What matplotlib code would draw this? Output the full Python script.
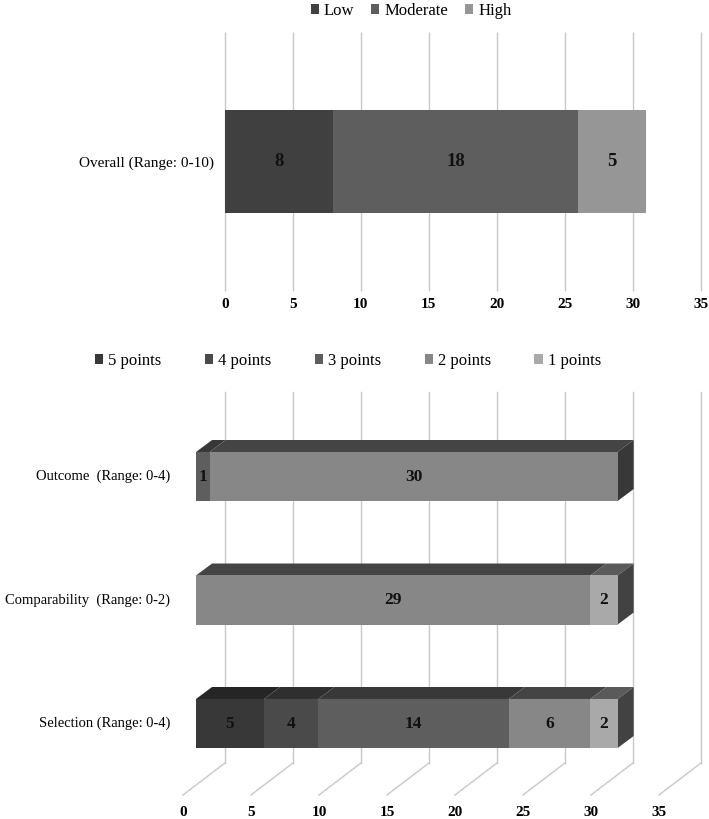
import matplotlib
matplotlib.use('Agg')
import matplotlib.pyplot as plt
from matplotlib.patches import Polygon, Patch

plt.rcParams['font.family'] = ['Liberation Serif', 'DejaVu Serif']

# ---------------- data ----------------
overall_categories = ['Overall (Range: 0-10)']
overall_series = ['Low', 'Moderate', 'High']
overall_values = [8, 18, 5]
overall_colors = ['#404040', '#5e5e5e', '#969696']

domain_categories = ['Selection (Range: 0-4)', 'Comparability  (Range: 0-2)', 'Outcome  (Range: 0-4)']
point_series = ['5 points', '4 points', '3 points', '2 points', '1 points']
points_5 = [5, 0, 0]
points_4 = [4, 0, 0]
points_3 = [14, 0, 1]
points_2 = [6, 29, 30]
points_1 = [2, 2, 0]
point_values = [points_5, points_4, points_3, points_2, points_1]
front_colors = ['#383838', '#4a4a4a', '#5e5e5e', '#878787', '#a9a9a9']
top_colors = ['#252525', '#2f2f2f', '#383838', '#444444', '#5a5a5a']
side_colors = ['#303030', '#333333', '#363636', '#383838', '#424242']

xticks = [0, 5, 10, 15, 20, 25, 30, 35]
grid_color = '#c8c8c8'

W, H = 709, 819
fig = plt.figure(figsize=(W / 100, H / 100), dpi=100)
fig.patch.set_facecolor('white')

# ---------------- top chart ----------------
ax1 = fig.add_axes([224.7 / W, 1 - 291 / H, 476 / W, 259 / H])
ax1.set_xlim(0, 35)
ax1.set_ylim(-1.257, 1.257)
ax1.vlines(xticks, -1.257, 1.257, colors=grid_color, linewidth=1.0, zorder=0, clip_on=False)
left = 0
for name, val, col in zip(overall_series, overall_values, overall_colors):
    ax1.barh(0, val, left=left, height=1.0, color=col, label=name, zorder=2)
    ax1.text(left + val / 2, 0, str(val), ha='center', va='center',
             fontsize=13.5, fontweight='bold', color='#111111', zorder=3)
    left += val
ax1.set_yticks([0])
ax1.set_yticklabels(overall_categories, fontsize=11)
ax1.set_xticks(xticks)
ax1.set_xticklabels([str(t) for t in xticks], fontsize=11, fontweight='bold')
ax1.tick_params(axis='both', length=0)
ax1.tick_params(axis='y', pad=8)
ax1.tick_params(axis='x', pad=5)
for s in ax1.spines.values():
    s.set_visible(False)
ax1.patch.set_alpha(0)

h1 = [Patch(facecolor=c, edgecolor='none') for c in overall_colors]
fig.legend(h1, overall_series, loc='center', bbox_to_anchor=(411 / W, 1 - 11 / H),
           ncol=3, frameon=False, prop={'size': 12}, handlelength=0.5, handleheight=0.5,
           handletextpad=0.3, columnspacing=1.0)

# ---------------- bottom pseudo-3D chart ----------------
ax2 = fig.add_axes([0, 0, 1, (H - 330) / H])
px_per_unit = 13.6
cat_px = 123.5
ax2.set_xlim(-196 / px_per_unit, (W - 196) / px_per_unit)
ax2.set_ylim((723.5 - H) / cat_px, (723.5 - 330) / cat_px)
ax2.axis('off')

back_dx, back_dy = 2.13, 0.178     # bar front plane -> back wall
bar_dx, bar_dy = 1.18, 0.097       # bar depth
floor_dx, floor_dy = -0.96, -0.081  # bar front plane -> floor front edge
wall_bottom, wall_top = -0.32, 2.684
bar_h = 0.397

for k in xticks:
    ax2.plot([k + back_dx, k + back_dx], [wall_bottom, wall_top], color=grid_color, lw=1.0, zorder=0)
    ax2.plot([k + back_dx, k + floor_dx], [wall_bottom, wall_bottom - back_dy + floor_dy],
             color=grid_color, lw=1.0, zorder=0)
    ax2.text(k + floor_dx, -0.717, str(k), ha='center', va='center', fontsize=11, fontweight='bold')

for i, cat in enumerate(domain_categories):
    left = 0
    last = None
    for j, series in enumerate(point_series):
        v = point_values[j][i]
        if v <= 0:
            continue
        ax2.barh(i, v, left=left, height=bar_h, color=front_colors[j], zorder=3)
        yt = i + bar_h / 2
        ax2.add_patch(Polygon([(left, yt), (left + v, yt), (left + v + bar_dx, yt + bar_dy),
                               (left + bar_dx, yt + bar_dy)], closed=True,
                              facecolor=top_colors[j], edgecolor='none', zorder=2))
        ax2.text(left + v / 2, i, str(v), ha='center', va='center', fontsize=12.5,
                 fontweight='bold', color='#111111', zorder=4)
        left += v
        last = j
    yb, yt = i - bar_h / 2, i + bar_h / 2
    ax2.add_patch(Polygon([(left, yb), (left, yt), (left + bar_dx, yt + bar_dy),
                           (left + bar_dx, yb + bar_dy)], closed=True,
                          facecolor=side_colors[last], edgecolor='none', zorder=2))
    ax2.text((170 - 196) / px_per_unit, i, cat, ha='right', va='center', fontsize=10.5)

h2 = [Patch(facecolor=c, edgecolor='none') for c in front_colors]
fig.legend(h2, point_series, loc='center', bbox_to_anchor=(348 / W, 1 - 361 / H),
           ncol=5, frameon=False, prop={'size': 12}, handlelength=0.5, handleheight=0.5,
           handletextpad=0.3, columnspacing=2.6)

fig.savefig('out.png', dpi=100, facecolor='white')
